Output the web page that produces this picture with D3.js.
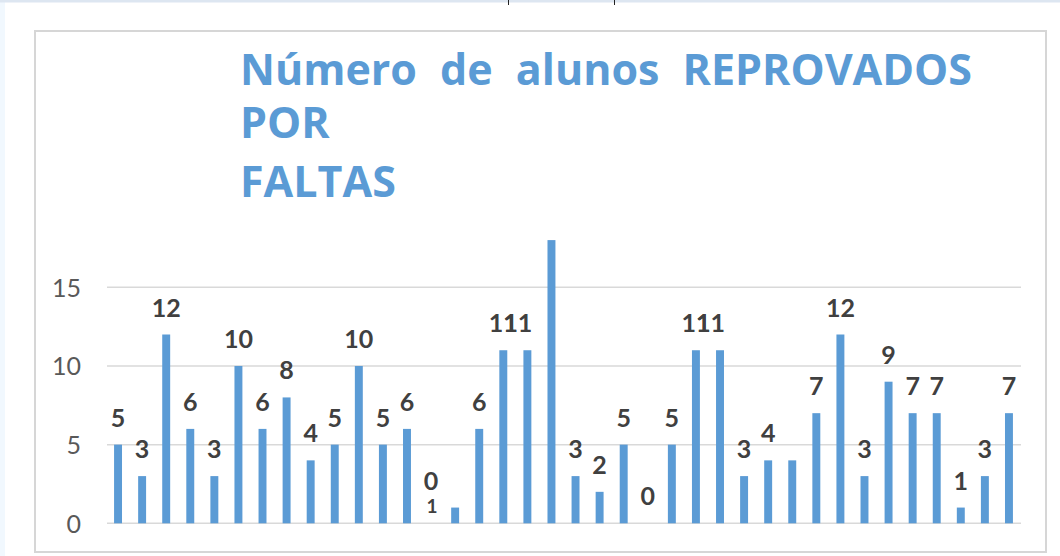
<!DOCTYPE html>
<html>
<head>
<meta charset="utf-8">
<script src="https://cdn.jsdelivr.net/npm/d3@7"></script>
<style>
  html, body { margin: 0; padding: 0; background: #ffffff; }
  svg { display: block; }
</style>
</head>
<body>
<svg id="chart" width="1060" height="556"></svg>
<script>
// ---- data ----
const titleLines = [
  "Número de alunos REPROVADOS",
  "POR",
  "FALTAS"
];
const categories = d3.range(1, 39).map(String);
const values = [5, 3, 12, 6, 3, 10, 6, 8, 4, 5, 10, 5, 6, 0, 1, 6, 11, 11, 18, 3, 2, 5, 0, 5, 11, 11, 3, 4, 4, 7, 12, 3, 9, 7, 7, 1, 3, 7];
// data labels as shown in the picture ("" = no label shown)
const labels = ["5", "3", "12", "6", "3", "10", "6", "8", "4", "5", "10", "5", "6", "0", "1", "6", "11", "11", "", "3", "2", "5", "0", "5", "11", "11", "3", "4", "", "7", "12", "3", "9", "7", "7", "1", "3", "7"];
const yTicks = [0, 5, 10, 15];

// ---- style ----
const blue = "#5b9bd5";
const svg = d3.select("#chart");

// page surroundings
svg.append("rect").attr("x", 0).attr("y", 0).attr("width", 1060).attr("height", 556).attr("fill", "#ffffff");
svg.append("rect").attr("x", 0).attr("y", 0).attr("width", 5).attr("height", 556).attr("fill", "#f1f8fe");
svg.append("rect").attr("x", 0).attr("y", 0).attr("width", 1060).attr("height", 2.5).attr("fill", "#dde6f1");
[508.5, 614.5].forEach(x => svg.append("line").attr("x1", x).attr("x2", x).attr("y1", 0).attr("y2", 5).attr("stroke", "#222").attr("stroke-width", 1));

// chart frame
svg.append("rect")
  .attr("x", 35).attr("y", 31).attr("width", 1011).attr("height", 521)
  .attr("fill", "#ffffff").attr("stroke", "#d6d6d6").attr("stroke-width", 2);

// ---- scales ----
const x = d3.scaleBand().domain(categories).range([106, 1021]).paddingInner(0.67).paddingOuter(0.335);
const y = d3.scaleLinear().domain([0, 15]).range([523.3, 287.3]);
const cxOf = i => x(categories[i]) + x.bandwidth() / 2;

// gridlines
svg.append("g").selectAll("line").data(yTicks).join("line")
  .attr("x1", 107).attr("x2", 1021)
  .attr("y1", d => y(d)).attr("y2", d => y(d))
  .attr("stroke", "#d9d9d9").attr("stroke-width", 1.5);

// y axis labels via d3 axis
const yAxis = svg.append("g").attr("transform", "translate(81,0)")
  .call(d3.axisLeft(y).tickValues(yTicks).tickSize(0).tickPadding(0).tickFormat(d3.format("d")));
yAxis.select(".domain").remove();
yAxis.selectAll("text")
  .attr("font-family", "Lato, 'Open Sans', sans-serif")
  .attr("font-size", 25)
  .attr("fill", "#595959")
  .attr("dy", "0.36em");

// bars
svg.append("g").selectAll("rect").data(values).join("rect")
  .attr("x", (d, i) => x(categories[i]))
  .attr("width", x.bandwidth())
  .attr("y", d => y(d))
  .attr("height", d => y(0) - y(d))
  .attr("fill", blue);

// data labels
const lab = svg.append("g")
  .attr("font-family", "Lato, 'Open Sans', sans-serif")
  .attr("font-weight", "bold")
  .attr("fill", "#404040");

labels.forEach((t, i) => {
  if (!t) return;
  let cx = cxOf(i);
  let by = y(values[i]) - 18;
  let fs = 25;
  let anchor = "middle";
  if (i === 13) { by = y(values[i]) - 33; }           // "0" label raised in original
  if (i === 14) {                                      // "1" label sits under the "0"
    cx = cxOf(i - 1) + 1;
    by = y(0) - 10.5;
    fs = 19;
  }
  // adjacent two-digit labels merge in the original (reads "111")
  if (t.length === 2 && i > 0 && labels[i - 1].length === 2 && values[i - 1] === values[i]) {
    cx = cxOf(i - 1);
    anchor = "start";
  }
  lab.append("text").attr("x", cx).attr("y", by).attr("font-size", fs)
    .attr("text-anchor", anchor).text(t);
});

// ---- title (justified first line) ----
const tg = svg.append("g")
  .attr("font-family", "'Open Sans', Lato, sans-serif")
  .attr("font-weight", "bold")
  .attr("font-size", 43)
  .attr("fill", blue);

const titleLeft = 240, titleRight = 972;
const baselines = [85, 138, 197];
titleLines.forEach((line, li) => {
  if (li === 0) {
    const words = line.split(" ");
    const nodes = words.map(w => tg.append("text").attr("y", baselines[li]).text(w));
    const widths = nodes.map(n => n.node().getComputedTextLength());
    const gap = (titleRight - titleLeft - d3.sum(widths)) / (words.length - 1);
    let cx = titleLeft;
    nodes.forEach((n, k) => { n.attr("x", cx); cx += widths[k] + gap; });
  } else {
    tg.append("text").attr("x", titleLeft).attr("y", baselines[li]).text(line);
  }
});
</script>
</body>
</html>
